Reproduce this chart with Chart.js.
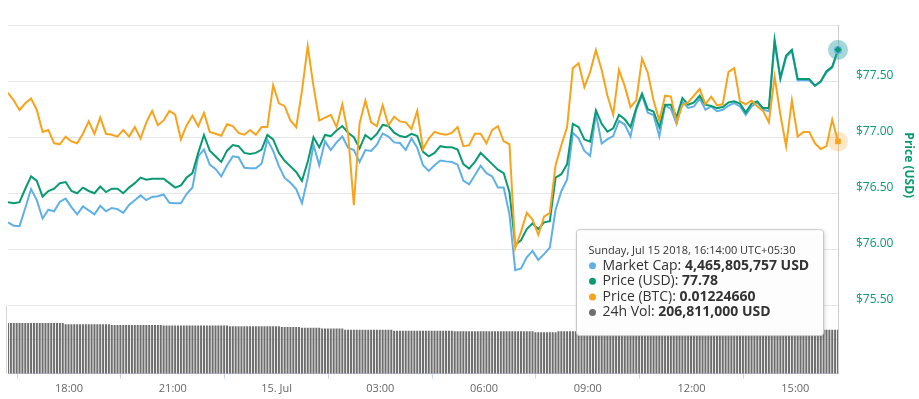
<!DOCTYPE html>
<html>
<head>
<meta charset="utf-8">
<script src="https://cdn.jsdelivr.net/npm/chart.js@4.4.0/dist/chart.umd.min.js"></script>
<style>
html, body { margin: 0; padding: 0; background: #fff; }
#wrap { width: 919px; height: 399px; }
</style>
</head>
<body>
<div id="wrap"><canvas id="chart" width="919" height="399"></canvas></div>
<script>
// time axis: minutes counted from 14 Jul 00:00, first sample 16:14
var startMinute = 974;
var lineStep = 10;
var volStep = 5;

var tickMinutes = [1080, 1260, 1440, 1620, 1800, 1980, 2160, 2340];
var tickLabels = ['18:00', '21:00', '15. Jul', '03:00', '06:00', '09:00', '12:00', '15:00'];
var priceTicks = [75.5, 76, 76.5, 77, 77.5, 78];

// market cap, million USD
var marketCapM = [
    4386.5, 4385.0, 4384.8, 4393.1, 4401.8, 4396.7, 4388.3, 4392.3, 4391.6, 4396.0, 4397.4, 4393.5, 4390.2, 4393.8, 4392.0, 4390.2, 4394.1, 4391.6, 4393.1, 4392.6, 4390.9, 4394.5, 4396.7, 4398.9, 4396.7, 4398.2, 4398.5, 4399.3, 4395.5,
    4395.3, 4395.3, 4399.6, 4402.5, 4416.8, 4420.0, 4413.0, 4411.0, 4407.6, 4412.7, 4416.8, 4416.4, 4411.6, 4411.3, 4411.3, 4413.5, 4424.4, 4419.3, 4412.3, 4406.9, 4404.7, 4401.8, 4395.3, 4406.9, 4422.1, 4412.7, 4423.7, 4419.7, 4423.2,
    4425.9, 4420.8, 4419.7, 4414.2, 4419.7, 4419.3, 4422.2, 4427.3, 4425.9, 4423.2, 4422.9, 4419.7, 4425.1, 4420.8, 4412.7, 4410.1, 4412.7, 4414.9, 4414.5, 4414.2, 4413.0, 4405.7, 4404.0, 4408.1, 4412.5, 4409.1, 4407.6, 4402.5, 4402.5, 4390.2,
    4364.6, 4365.4, 4370.5, 4373.4, 4369.3, 4371.9, 4374.9, 4392.3, 4400.8, 4406.2, 4427.6, 4425.1, 4419.3, 4417.1, 4436.3, 4422.7, 4424.7, 4426.1, 4433.1, 4431.4, 4425.9, 4438.2, 4444.8, 4436.8, 4435.8, 4425.9, 4440.1, 4438.7, 4431.7,
    4441.9, 4439.0, 4439.7, 4443.3, 4438.2, 4439.7, 4437.5, 4438.2, 4440.1, 4441.2, 4439.7, 4435.8, 4439.7, 4441.6, 4438.2, 4437.5, 4468.8, 4452.1, 4462.3, 4465.2, 4451.6, 4451.8, 4451.6, 4449.2, 4450.9, 4455.3, 4457.5, 4465.6
];

var priceUsd = [
    76.42, 76.41, 76.42, 76.54, 76.65, 76.61, 76.47, 76.52, 76.54, 76.59, 76.60, 76.52, 76.50, 76.55, 76.52, 76.50, 76.56, 76.51, 76.54, 76.54, 76.50, 76.55, 76.59, 76.64, 76.62, 76.63, 76.63, 76.63, 76.59,
    76.55, 76.57, 76.64, 76.68, 76.86, 77.02, 76.88, 76.83, 76.78, 76.88, 76.93, 76.92, 76.86, 76.85, 76.86, 76.89, 77.02, 76.98, 76.86, 76.79, 76.74, 76.69, 76.61, 76.78, 77.00, 76.91, 77.02, 77.01, 77.06,
    77.10, 77.04, 77.00, 76.90, 77.02, 76.98, 77.03, 77.11, 77.10, 77.04, 77.01, 77.00, 77.03, 77.01, 76.87, 76.83, 76.86, 76.92, 76.91, 76.91, 76.89, 76.76, 76.72, 76.78, 76.86, 76.81, 76.76, 76.71, 76.68, 76.51,
    76.04, 76.08, 76.18, 76.23, 76.18, 76.24, 76.25, 76.64, 76.67, 76.76, 77.12, 77.09, 76.98, 76.96, 77.24, 77.12, 77.05, 77.08, 77.20, 77.16, 77.09, 77.26, 77.39, 77.25, 77.23, 77.09, 77.29, 77.29, 77.18,
    77.35, 77.29, 77.31, 77.37, 77.29, 77.28, 77.26, 77.27, 77.31, 77.32, 77.30, 77.22, 77.30, 77.32, 77.26, 77.26, 77.87, 77.53, 77.73, 77.78, 77.52, 77.52, 77.52, 77.46, 77.50, 77.59, 77.63, 77.78
];

var priceBtc = [
    0.012298, 0.012290, 0.012280, 0.012287, 0.012292, 0.012280, 0.012257, 0.012259, 0.012245, 0.012244, 0.012252, 0.012247, 0.012245, 0.012255, 0.012268, 0.012255, 0.012272, 0.012255, 0.012254, 0.012252, 0.012259, 0.012252, 0.012262, 0.012250, 0.012267, 0.012279, 0.012264, 0.012269, 0.012279,
    0.012275, 0.012249, 0.012264, 0.012274, 0.012263, 0.012277, 0.012257, 0.012255, 0.012253, 0.012265, 0.012263, 0.012256, 0.012254, 0.012259, 0.012254, 0.012262, 0.012262, 0.012306, 0.012287, 0.012284, 0.012269, 0.012262, 0.012300, 0.012347, 0.012305, 0.012269, 0.012272, 0.012275, 0.012262,
    0.012286, 0.012255, 0.012180, 0.012266, 0.012290, 0.012267, 0.012263, 0.012285, 0.012264, 0.012273, 0.012268, 0.012267, 0.012260, 0.012279, 0.012239, 0.012250, 0.012257, 0.012255, 0.012254, 0.012256, 0.012262, 0.012242, 0.012243, 0.012255, 0.012255, 0.012245, 0.012259, 0.012263, 0.012247, 0.012244,
    0.012135, 0.012152, 0.012172, 0.012165, 0.012149, 0.012168, 0.012172, 0.012222, 0.012243, 0.012262, 0.012324, 0.012329, 0.012304, 0.012320, 0.012343, 0.012322, 0.012295, 0.012275, 0.012322, 0.012305, 0.012283, 0.012290, 0.012334, 0.012319, 0.012290, 0.012269, 0.012295, 0.012294, 0.012267,
    0.012285, 0.012288, 0.012295, 0.012302, 0.012286, 0.012294, 0.012285, 0.012286, 0.012320, 0.012324, 0.012289, 0.012286, 0.012290, 0.012284, 0.012279, 0.012267, 0.012315, 0.012275, 0.012242, 0.012290, 0.012252, 0.012257, 0.012257, 0.012245, 0.012239, 0.012242, 0.012270, 0.012247
];

// 24h volume, million USD, one bar per 5 minutes
var volumeM = [
    238, 238, 238, 238, 238, 238, 238, 238, 238, 238, 238, 238,
    238, 238, 238, 238, 238, 238, 238, 238, 232, 232, 232, 232,
    232, 232, 232, 232, 232, 232, 232, 232, 232, 232, 232, 232,
    229, 229, 229, 229, 229, 229, 229, 229, 229, 229, 229, 229,
    229, 229, 229, 229, 229, 229, 226, 226, 226, 226, 226, 226,
    226, 226, 226, 226, 226, 226, 226, 226, 226, 226, 226, 226,
    226, 226, 226, 226, 226, 223, 223, 223, 223, 223, 223, 223,
    223, 223, 223, 223, 223, 223, 223, 223, 223, 223, 223, 219,
    219, 219, 219, 219, 219, 219, 216, 216, 216, 216, 216, 216,
    216, 213, 213, 213, 213, 213, 213, 213, 213, 207, 207, 207,
    207, 207, 207, 207, 207, 207, 207, 207, 207, 207, 207, 207,
    207, 207, 202, 202, 202, 202, 202, 202, 202, 202, 202, 202,
    202, 202, 202, 202, 202, 202, 202, 202, 202, 202, 202, 200,
    200, 200, 200, 200, 200, 200, 200, 200, 200, 200, 200, 200,
    200, 200, 200, 200, 200, 200, 200, 200, 200, 200, 200, 200,
    200, 200, 200, 195, 195, 195, 195, 195, 195, 195, 195, 200,
    200, 200, 200, 200, 200, 200, 200, 200, 200, 200, 200, 200,
    200, 200, 200, 200, 200, 200, 200, 200, 200, 200, 200, 200,
    200, 200, 200, 200, 200, 200, 200, 200, 200, 200, 200, 200,
    200, 200, 200, 200, 200, 200, 200, 200, 200, 200, 200, 200,
    200, 200, 200, 202, 202, 202, 202, 202, 202, 204, 204, 204,
    204, 204, 204, 204, 204, 204, 204, 204, 204, 204, 204, 204,
    204, 204, 207, 207, 207, 207, 207, 207, 207, 207, 207, 207,
    207, 207, 207, 207, 207, 207, 207, 207, 207, 207, 207, 207,
    207
];

var tipTitle = 'Sunday, Jul 15 2018, 16:14:00 UTC+05:30';
var tipLabels = ['Market Cap: ', 'Price (USD): ', 'Price (BTC): ', '24h Vol: '];
var tipValues = ['4,465,805,757 USD', '77.78', '0.01224660', '206,811,000 USD'];

var blue = '#5fb0e6';
var green = '#0a9a72';
var orange = '#f7a31c';
var gray = '#6e6e6e';
var font = '"Open Sans", sans-serif';

Chart.defaults.font.family = font;

function toPoints(values, step) {
    return values.map(function (v, i) {
        return { x: startMinute + i * step, y: v };
    });
}

var overlay = {
    id: 'overlay',
    afterDatasetsDraw: function (chart) {
        var ctx = chart.ctx;
        var area = chart.chartArea;
        var last = priceUsd.length - 1;
        var cap = chart.getDatasetMeta(2).data[last];
        var usd = chart.getDatasetMeta(1).data[last];
        var btc = chart.getDatasetMeta(0).data[last];
        ctx.save();

        // left edge of the volume pane
        var paneTop = Math.round(chart.scales.y.getPixelForValue(75.5));
        ctx.strokeStyle = '#d8d8d8';
        ctx.lineWidth = 1;
        ctx.beginPath();
        ctx.moveTo(area.left - 1.5, paneTop);
        ctx.lineTo(area.left - 1.5, area.bottom);
        ctx.stroke();

        [[cap, blue], [usd, green], [btc, orange]].forEach(function (p) {
            ctx.globalAlpha = 0.25;
            ctx.fillStyle = p[1];
            ctx.beginPath();
            ctx.arc(p[0].x, p[0].y, 10, 0, Math.PI * 2);
            ctx.fill();
        });
        ctx.globalAlpha = 1;
        ctx.fillStyle = blue;
        Chart.helpers.drawPoint(ctx, { pointStyle: 'circle', radius: 4, rotation: 0 }, cap.x, cap.y);
        ctx.fillStyle = green;
        Chart.helpers.drawPoint(ctx, { pointStyle: 'rectRot', radius: 3.5, rotation: 0 }, usd.x, usd.y);
        ctx.fillStyle = orange;
        Chart.helpers.drawPoint(ctx, { pointStyle: 'rect', radius: 4, rotation: 0 }, btc.x, btc.y);
        ctx.restore();
    },
    afterDraw: function (chart) {
        var ctx = chart.ctx;
        var area = chart.chartArea;
        var yScale = chart.scales.y;

        // axis title, centred on the price pane
        ctx.save();
        ctx.translate(chart.width - 11, (area.top + yScale.getPixelForValue(75.5)) / 2);
        ctx.rotate(Math.PI / 2);
        ctx.font = 'bold 12px ' + font;
        ctx.fillStyle = green;
        ctx.textAlign = 'center';
        ctx.textBaseline = 'middle';
        ctx.fillText('Price (USD)', 0, 0);
        ctx.restore();

        // tooltip for the last point
        var w = 247, h = 106;
        var left = area.right - 15 - w + 0.5;
        var top = area.top + 204 + 0.5;
        ctx.save();
        ctx.shadowColor = 'rgba(0,0,0,0.2)';
        ctx.shadowBlur = 4;
        ctx.shadowOffsetX = 1;
        ctx.shadowOffsetY = 1;
        ctx.fillStyle = 'rgba(255,255,255,0.96)';
        ctx.beginPath();
        ctx.roundRect(left, top, w, h, 3);
        ctx.fill();
        ctx.shadowColor = 'transparent';
        ctx.strokeStyle = '#c8c8c8';
        ctx.lineWidth = 1;
        ctx.stroke();

        ctx.textBaseline = 'middle';
        ctx.fillStyle = '#333';
        ctx.font = '11px ' + font;
        ctx.fillText(tipTitle, left + 12, top + 21);

        var dotColors = [blue, green, orange, gray];
        for (var k = 0; k < tipLabels.length; k++) {
            var ty = top + 36 + k * 15.6;
            ctx.fillStyle = dotColors[k];
            ctx.beginPath();
            ctx.arc(left + 16, ty, 3.5, 0, Math.PI * 2);
            ctx.fill();
            ctx.fillStyle = '#333';
            ctx.font = '14px ' + font;
            ctx.fillText(tipLabels[k], left + 26, ty);
            var lw = ctx.measureText(tipLabels[k]).width;
            ctx.font = 'bold 14px ' + font;
            ctx.fillText(tipValues[k], left + 26 + lw, ty);
        }
        ctx.restore();
    }
};

var ctx = document.getElementById('chart').getContext('2d');
var chart = new Chart(ctx, {
    type: 'line',
    data: {
        datasets: [{
            label: 'Price (BTC)',
            data: toPoints(priceBtc, lineStep),
            yAxisID: 'yBtc',
            borderColor: orange,
            order: 1
        }, {
            label: 'Price (USD)',
            data: toPoints(priceUsd, lineStep),
            yAxisID: 'y',
            borderColor: green,
            order: 2
        }, {
            label: 'Market Cap',
            data: toPoints(marketCapM, lineStep),
            yAxisID: 'yCap',
            borderColor: blue,
            order: 3
        }, {
            type: 'bar',
            label: '24h Vol',
            data: toPoints(volumeM, volStep),
            yAxisID: 'yVol',
            backgroundColor: gray,
            borderWidth: 0,
            categoryPercentage: 0.7,
            barPercentage: 1,
            order: 4
        }]
    },
    options: {
        responsive: false,
        animation: false,
        events: [],
        layout: { padding: { left: 8, top: 8, right: 0, bottom: 0 } },
        elements: {
            line: { borderWidth: 2, tension: 0 },
            point: { radius: 0 }
        },
        plugins: {
            legend: { display: false },
            tooltip: { enabled: false }
        },
        scales: {
            x: {
                type: 'linear',
                min: startMinute,
                max: startMinute + 1440,
                offset: false,
                afterBuildTicks: function (s) {
                    s.ticks = tickMinutes.map(function (v) { return { value: v }; });
                },
                ticks: {
                    autoSkip: false,
                    maxRotation: 0,
                    color: '#666',
                    font: { size: 11 },
                    padding: 3,
                    callback: function (v) { return tickLabels[tickMinutes.indexOf(v)]; }
                },
                grid: { drawOnChartArea: false, tickLength: 5, color: '#ccd6eb' },
                border: { color: '#ccd6eb' },
                afterFit: function (s) { s.height = 25; }
            },
            y: {
                position: 'right',
                min: 74.888,
                max: 78,
                afterBuildTicks: function (s) {
                    s.ticks = priceTicks.map(function (v) { return { value: v }; });
                },
                ticks: {
                    color: green,
                    font: { size: 12 },
                    padding: 18,
                    labelOffset: -6,
                    callback: function (v) { return v === 78 ? '' : '$' + v.toFixed(2); }
                },
                grid: { color: '#e6e6e6', drawTicks: false },
                border: { display: true, color: '#cccccc' },
                afterFit: function (s) { s.width = 81; }
            },
            yCap: { display: false, min: 4317, max: 4477 },
            yBtc: { display: false, min: 0.012003, max: 0.012369 },
            yVol: {
                position: 'left',
                min: 0,
                max: 1635,
                afterBuildTicks: function (s) { s.ticks = [{ value: 161 }]; },
                ticks: { display: false },
                grid: { color: '#e6e6e6', drawTicks: false },
                border: { display: false },
                afterFit: function (s) { s.width = 0; }
            }
        }
    },
    plugins: [overlay]
});
</script>
</body>
</html>
